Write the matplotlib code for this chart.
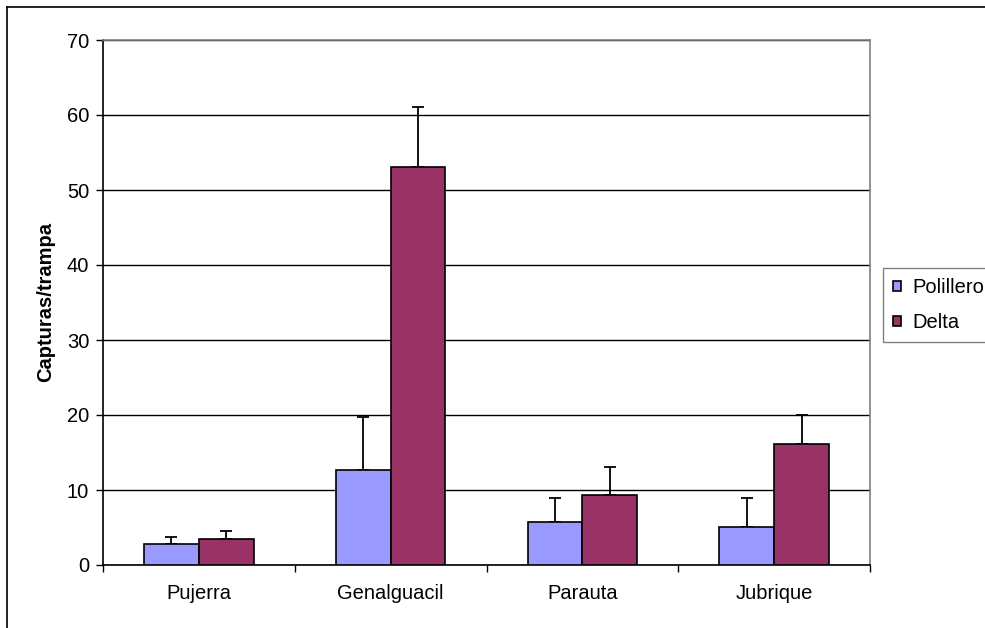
import numpy as np
import matplotlib
matplotlib.use('Agg')
import matplotlib.pyplot as plt
from matplotlib.lines import Line2D

plt.rcParams['font.family'] = ['Liberation Sans', 'DejaVu Sans']

sites = ['Pujerra', 'Genalguacil', 'Parauta', 'Jubrique']
polillero = [2.8, 12.7, 5.8, 5.1]
polillero_err = [0.9, 7.0, 3.2, 3.9]
delta = [3.45, 53.1, 9.4, 16.1]
delta_err = [1.1, 8.0, 3.7, 3.9]

fs = 14.5

fig = plt.figure(figsize=(9.85, 6.28), dpi=100)
ax = fig.add_axes([103/985, 1 - 565/628, (870 - 103)/985, (565 - 40)/628])

ind = np.arange(len(sites))
width = 1 / 3.5

ax.set_axisbelow(True)
ax.yaxis.grid(True, color='black', linewidth=1)

b1 = ax.bar(ind - width/2, polillero, width, color='#9999FF', edgecolor='black',
            linewidth=1.2, zorder=3)
b2 = ax.bar(ind + width/2, delta, width, color='#993366', edgecolor='black',
            linewidth=1.2, zorder=3)
ax.errorbar(ind - width/2, polillero, yerr=[np.zeros(4), polillero_err], fmt='none',
            ecolor='black', elinewidth=1.3, capsize=4.5, capthick=1.3, zorder=2)
ax.errorbar(ind + width/2, delta, yerr=[np.zeros(4), delta_err], fmt='none',
            ecolor='black', elinewidth=1.3, capsize=4.5, capthick=1.3, zorder=2)

ax.set_xlim(-0.5, len(sites) - 0.5)
ax.set_ylim(0, 70)
ax.set_yticks(np.arange(0, 71, 10))
ax.set_xticks(ind)
ax.set_xticklabels(sites)
ax.set_xticks(np.arange(-0.5, len(sites)), minor=True)
ax.tick_params(axis='x', which='major', length=0, pad=14, labelsize=fs)
ax.tick_params(axis='x', which='minor', length=5, width=1, direction='out')
ax.tick_params(axis='y', length=5, width=1, direction='out', labelsize=fs, pad=5)
ax.set_ylabel('Capturas/trampa', fontsize=fs, fontweight='bold', labelpad=8)

for s in ['left', 'bottom']:
    ax.spines[s].set_color('black')
    ax.spines[s].set_linewidth(1.2)
for s in ['top', 'right']:
    ax.spines[s].set_color('#808080')
    ax.spines[s].set_linewidth(1.2)

leg = fig.legend([b1, b2], ['Polillero', 'Delta'], loc='upper left',
                 bbox_to_anchor=(883/985, 1 - 268/628), fontsize=fs,
                 handlelength=0.4, handleheight=0.4, handletextpad=0.55,
                 borderpad=0.5, borderaxespad=0, labelspacing=0.8,
                 fancybox=False, edgecolor='#808080', framealpha=1)
leg.get_frame().set_linewidth(1)

# outer chart border
fig.add_artist(Line2D([7/985, 7/985], [0, 1 - 7/628], color='black', linewidth=1.2))
fig.add_artist(Line2D([7/985, 1], [1 - 7/628, 1 - 7/628], color='black', linewidth=1.2))

plt.savefig('out.png', dpi=100)
